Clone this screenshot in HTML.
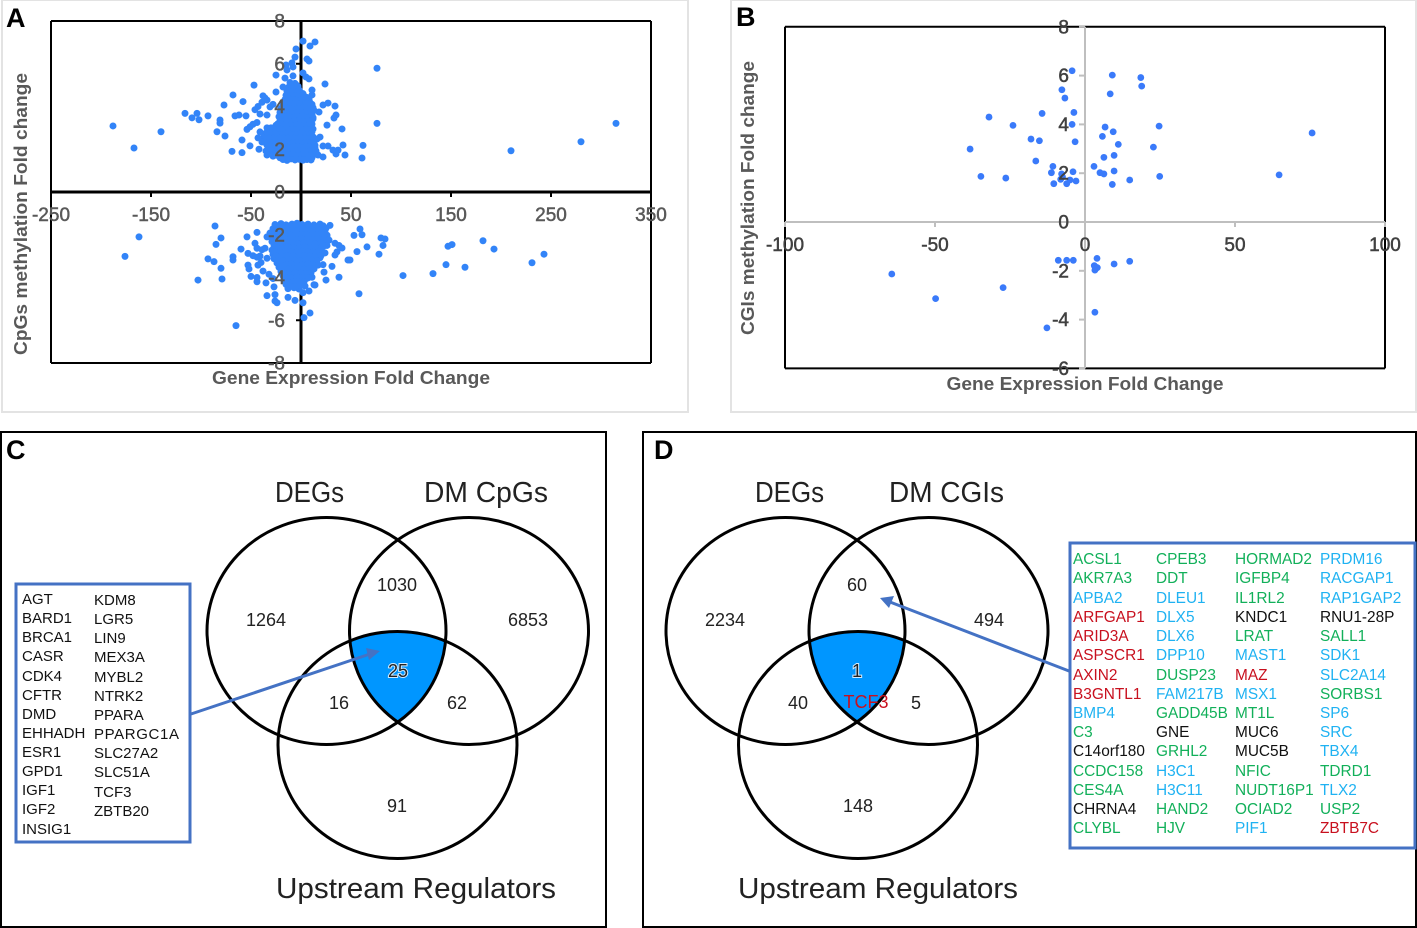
<!DOCTYPE html>
<html lang="en">
<head>
<meta charset="utf-8">
<title>Methylation and gene expression figure</title>
<style>
html,body{margin:0;padding:0;background:#fff;width:1417px;height:928px;overflow:hidden}
svg{display:block;font-family:"Liberation Sans",sans-serif}
.tick-a{font-size:19px;fill:#595959;stroke:#595959;stroke-width:.5}
.tick-b{font-size:19px;fill:#404040;stroke:#404040;stroke-width:.5}
.axis-title{font-size:18px;font-weight:bold;fill:#595959}
.panel-letter{font-size:27px;font-weight:bold;fill:#000}
.venn-title{font-size:29px;fill:#222}
.num{font-size:18px;fill:#222;text-anchor:middle}
.halo{paint-order:stroke;stroke:#cfeaff;stroke-width:2px}
.lc{font-size:15px;fill:#111}
.ld{font-size:15.4px}
.g{fill:#12b05a}.b{fill:#1fb2f2}.r{fill:#c8101e}.k{fill:#111}
.circle{fill:none;stroke:#000;stroke-width:3}
</style>
</head>
<body>
<svg xmlns="http://www.w3.org/2000/svg" width="1417" height="928" viewBox="0 0 1417 928">
<defs>
<clipPath id="cl"><ellipse cx="326.5" cy="631" rx="119.5" ry="113.5"/></clipPath>
<clipPath id="cr"><ellipse cx="469" cy="631" rx="119.5" ry="113.5"/></clipPath>
<clipPath id="dl"><ellipse cx="785.5" cy="631" rx="119.5" ry="113.5"/></clipPath>
<clipPath id="dr"><ellipse cx="928.5" cy="631" rx="119.5" ry="113.5"/></clipPath>
</defs>

<rect x="2" y="0" width="686" height="412" fill="#fff" stroke="#e3e3e3" stroke-width="2"/>
<rect x="731" y="0" width="685" height="412" fill="#fff" stroke="#e3e3e3" stroke-width="2"/>
<g id="chart-a"></g>
<g id="chart-b"></g>
<text x="6" y="27" class="panel-letter">A</text>
<text x="736" y="26" class="panel-letter">B</text>

<!-- Panel C -->
<rect x="1" y="432" width="605" height="495" fill="#fff" stroke="#000" stroke-width="2"/>
<text x="6" y="459" class="panel-letter">C</text>
<g clip-path="url(#cl)"><g clip-path="url(#cr)"><ellipse cx="397.5" cy="745" rx="119.5" ry="113.5" fill="#0096ff"/></g></g>
<ellipse class="circle" cx="326.5" cy="631" rx="119.5" ry="113.5"/>
<ellipse class="circle" cx="469" cy="631" rx="119.5" ry="113.5"/>
<ellipse class="circle" cx="397.5" cy="745" rx="119.5" ry="113.5"/>
<text x="275" y="502" class="venn-title" textLength="69" lengthAdjust="spacingAndGlyphs">DEGs</text>
<text x="424" y="502" class="venn-title" textLength="124" lengthAdjust="spacingAndGlyphs">DM CpGs</text>
<text x="276" y="898" class="venn-title" textLength="280" lengthAdjust="spacingAndGlyphs">Upstream Regulators</text>
<text x="266" y="626" class="num">1264</text>
<text x="397" y="591" class="num">1030</text>
<text x="528" y="626" class="num">6853</text>
<text x="398" y="677" class="num halo">25</text>
<text x="339" y="709" class="num">16</text>
<text x="457" y="709" class="num">62</text>
<text x="397" y="812" class="num">91</text>
<line x1="191" y1="714" x2="370" y2="654" stroke="#4472c4" stroke-width="3"/>
<polygon points="380,651 366,648 369,660" fill="#4472c4"/>
<rect x="16" y="584" width="174" height="258" fill="#fff" stroke="#4472c4" stroke-width="3"/>
<g class="lc">
<text class="lc" x="22" y="604">AGT</text>
<text class="lc" x="22" y="623">BARD1</text>
<text class="lc" x="22" y="642">BRCA1</text>
<text class="lc" x="22" y="661">CASR</text>
<text class="lc" x="22" y="681">CDK4</text>
<text class="lc" x="22" y="700">CFTR</text>
<text class="lc" x="22" y="719">DMD</text>
<text class="lc" x="22" y="738">EHHADH</text>
<text class="lc" x="22" y="757">ESR1</text>
<text class="lc" x="22" y="776">GPD1</text>
<text class="lc" x="22" y="795">IGF1</text>
<text class="lc" x="22" y="814">IGF2</text>
<text class="lc" x="22" y="834">INSIG1</text>
<text class="lc" x="94" y="605">KDM8</text>
<text class="lc" x="94" y="624">LGR5</text>
<text class="lc" x="94" y="643">LIN9</text>
<text class="lc" x="94" y="662">MEX3A</text>
<text class="lc" x="94" y="682">MYBL2</text>
<text class="lc" x="94" y="701">NTRK2</text>
<text class="lc" x="94" y="720">PPARA</text>
<text class="lc" x="94" y="739" textLength="85" lengthAdjust="spacing">PPARGC1A</text>
<text class="lc" x="94" y="758">SLC27A2</text>
<text class="lc" x="94" y="777">SLC51A</text>
<text class="lc" x="94" y="797">TCF3</text>
<text class="lc" x="94" y="816">ZBTB20</text>
</g>

<!-- Panel D -->
<rect x="643" y="432" width="773" height="495" fill="#fff" stroke="#000" stroke-width="2"/>
<text x="654" y="459" class="panel-letter">D</text>
<g clip-path="url(#dl)"><g clip-path="url(#dr)"><ellipse cx="858" cy="745" rx="119.5" ry="113.5" fill="#0096ff"/></g></g>
<ellipse class="circle" cx="785.5" cy="631" rx="119.5" ry="113.5"/>
<ellipse class="circle" cx="928.5" cy="631" rx="119.5" ry="113.5"/>
<ellipse class="circle" cx="858" cy="745" rx="119.5" ry="113.5"/>
<text x="755" y="502" class="venn-title" textLength="69" lengthAdjust="spacingAndGlyphs">DEGs</text>
<text x="889" y="502" class="venn-title" textLength="115" lengthAdjust="spacingAndGlyphs">DM CGIs</text>
<text x="738" y="898" class="venn-title" textLength="280" lengthAdjust="spacingAndGlyphs">Upstream Regulators</text>
<text x="725" y="626" class="num">2234</text>
<text x="857" y="591" class="num">60</text>
<text x="989" y="626" class="num">494</text>
<text x="857" y="677" class="num halo">1</text>
<text x="798" y="709" class="num">40</text>
<text x="916" y="709" class="num">5</text>
<text x="858" y="812" class="num">148</text>
<text x="866" y="708" class="num" style="fill:#c8101e">TCF3</text>
<line x1="1069" y1="671" x2="890" y2="602" stroke="#4472c4" stroke-width="3"/>
<polygon points="880,598 894,596 889,608" fill="#4472c4"/>
<rect x="1070" y="543" width="345" height="305" fill="#fff" stroke="#4472c4" stroke-width="3"/>
<g class="ld">
<text class="ld g" x="1073" y="564">ACSL1</text>
<text class="ld g" x="1073" y="583">AKR7A3</text>
<text class="ld b" x="1073" y="603">APBA2</text>
<text class="ld r" x="1073" y="622">ARFGAP1</text>
<text class="ld r" x="1073" y="641">ARID3A</text>
<text class="ld r" x="1073" y="660">ASPSCR1</text>
<text class="ld r" x="1073" y="680">AXIN2</text>
<text class="ld r" x="1073" y="699">B3GNTL1</text>
<text class="ld b" x="1073" y="718">BMP4</text>
<text class="ld g" x="1073" y="737">C3</text>
<text class="ld k" x="1073" y="756">C14orf180</text>
<text class="ld g" x="1073" y="776">CCDC158</text>
<text class="ld g" x="1073" y="795">CES4A</text>
<text class="ld k" x="1073" y="814">CHRNA4</text>
<text class="ld g" x="1073" y="833">CLYBL</text>
<text class="ld g" x="1156" y="564">CPEB3</text>
<text class="ld g" x="1156" y="583">DDT</text>
<text class="ld b" x="1156" y="603">DLEU1</text>
<text class="ld b" x="1156" y="622">DLX5</text>
<text class="ld b" x="1156" y="641">DLX6</text>
<text class="ld b" x="1156" y="660">DPP10</text>
<text class="ld g" x="1156" y="680">DUSP23</text>
<text class="ld b" x="1156" y="699">FAM217B</text>
<text class="ld g" x="1156" y="718">GADD45B</text>
<text class="ld k" x="1156" y="737">GNE</text>
<text class="ld g" x="1156" y="756">GRHL2</text>
<text class="ld b" x="1156" y="776">H3C1</text>
<text class="ld b" x="1156" y="795">H3C11</text>
<text class="ld g" x="1156" y="814">HAND2</text>
<text class="ld g" x="1156" y="833">HJV</text>
<text class="ld g" x="1235" y="564">HORMAD2</text>
<text class="ld g" x="1235" y="583">IGFBP4</text>
<text class="ld g" x="1235" y="603">IL1RL2</text>
<text class="ld k" x="1235" y="622">KNDC1</text>
<text class="ld g" x="1235" y="641">LRAT</text>
<text class="ld b" x="1235" y="660">MAST1</text>
<text class="ld r" x="1235" y="680">MAZ</text>
<text class="ld b" x="1235" y="699">MSX1</text>
<text class="ld g" x="1235" y="718">MT1L</text>
<text class="ld k" x="1235" y="737">MUC6</text>
<text class="ld k" x="1235" y="756">MUC5B</text>
<text class="ld g" x="1235" y="776">NFIC</text>
<text class="ld g" x="1235" y="795">NUDT16P1</text>
<text class="ld g" x="1235" y="814">OCIAD2</text>
<text class="ld b" x="1235" y="833">PIF1</text>
<text class="ld b" x="1320" y="564">PRDM16</text>
<text class="ld b" x="1320" y="583">RACGAP1</text>
<text class="ld b" x="1320" y="603">RAP1GAP2</text>
<text class="ld k" x="1320" y="622">RNU1-28P</text>
<text class="ld g" x="1320" y="641">SALL1</text>
<text class="ld b" x="1320" y="660">SDK1</text>
<text class="ld b" x="1320" y="680">SLC2A14</text>
<text class="ld g" x="1320" y="699">SORBS1</text>
<text class="ld b" x="1320" y="718">SP6</text>
<text class="ld b" x="1320" y="737">SRC</text>
<text class="ld b" x="1320" y="756">TBX4</text>
<text class="ld g" x="1320" y="776">TDRD1</text>
<text class="ld b" x="1320" y="795">TLX2</text>
<text class="ld g" x="1320" y="814">USP2</text>
<text class="ld r" x="1320" y="833">ZBTB7C</text>
</g>
</svg>

<script>
var xTicksA = [-250,-150,-50,50,150,250,350];
var yTicksA = [8,6,4,2,0,-2,-4,-6,-8];
var xTicksB = [-100,-50,0,50,100];
var yTicksB = [8,6,4,2,0,-2,-4,-6];

// Panel A: CpGs, hypermethylated outliers and fringe
var cpgUpperFringe = [
[-188,3.09],[-167,2.06],[-140,2.82],[-116,3.68],[-109,3.47],[-104,3.68],[-102,3.38],[-93,3.56],[-81,3.37],[-81,3.22],[-84,2.82],[-76,2.62],[-77,4.07],[-68,4.54],[-58,4.23],[-47,5.0],[-66,3.56],[-62,3.6],[-55,3.56],[-69,1.9],[-59,1.84],[-59,2.43],[-51,2.16],[-42,2.0],[-54,2.93],[-51,3.05],[-48,3.17],[-44,3.25],[-46,3.85],[-43,4.0],[-38,4.5],[-39,4.2],[-34,4.3],[-31,3.98],[-41,3.65],[-34,3.6],[-36,4.4],[-28,4.1],
[-34,1.73],[-35,1.92],[-28,1.68],[-19,1.59],[-41,2.81],[-43,2.53],[-39,2.34],[-34,3.0],
[2,7.06],[14,7.02],[9,6.83],[-5,6.69],[-6,6.31],[-9,6.04],[-15,5.94],[-14,5.71],[-8,5.85],[6,6.22],[8,6.13],[2,5.57],[5,5.38],[8,5.29],[-25,5.47],[-16,5.33],[-8,5.43],[-18,4.91],[-25,4.68],
[24,5.05],[11,4.77],[11,4.54],[27,4.16],[22,4.07],[18,3.74],[34,4.02],[35,3.6],[33,3.46],[26,3.13],[41,2.95],[12,2.95],[19,2.57],[16,2.48],[22,2.15],[27,2.15],[32,1.96],[37,1.96],[42,2.2],[35,1.78],[44,1.73],[22,1.64],[15,1.92],[17,1.73],
[76,5.79],[76,3.21],[62,2.18],[61,1.59],[210,1.93],[280,2.35],[315,3.21]
];
// Panel A: CpGs, hypermethylated dense cloud
var cpgUpperCloud = [
[-18,1.52],[-14,1.48],[-10,1.55],[-6,1.5],[-2,1.53],[2,1.49],[6,1.52],[10,1.5],
[-24,1.72],[-20,1.68],[-15,1.74],[-11,1.7],[-7,1.66],[-3,1.72],[1,1.7],[5,1.75],[9,1.68],[12,1.72],
[-30,1.92],[-26,1.88],[-22,1.94],[-17,1.9],[-12,1.86],[-8,1.92],[-4,1.9],[0,1.94],[4,1.88],[8,1.92],[13,1.9],
[-33,2.12],[-29,2.08],[-24,2.14],[-20,2.1],[-15,2.06],[-10,2.12],[-5,2.1],[-1,2.14],[3,2.08],[7,2.12],[11,2.1],[14,2.06],
[-36,2.32],[-31,2.28],[-27,2.34],[-22,2.3],[-18,2.26],[-13,2.32],[-9,2.3],[-4,2.34],[1,2.28],[5,2.32],[9,2.3],[13,2.26],
[-38,2.52],[-33,2.48],[-28,2.54],[-24,2.5],[-19,2.46],[-14,2.52],[-10,2.5],[-6,2.54],[-2,2.48],[3,2.52],[7,2.5],[11,2.46],
[-37,2.72],[-32,2.68],[-27,2.74],[-22,2.7],[-17,2.66],[-13,2.72],[-8,2.7],[-3,2.74],[2,2.68],[6,2.72],[10,2.7],
[-33,2.92],[-29,2.88],[-25,2.94],[-20,2.9],[-15,2.86],[-11,2.92],[-6,2.9],[-1,2.94],[4,2.88],[8,2.92],
[-25,3.12],[-20,3.08],[-16,3.14],[-11,3.1],[-7,3.06],[-2,3.12],[3,3.1],[7,3.14],[10,3.08],
[-21,3.32],[-17,3.28],[-12,3.34],[-8,3.3],[-3,3.26],[1,3.32],[6,3.3],[10,3.34],
[-22,3.52],[-18,3.48],[-13,3.54],[-9,3.5],[-4,3.46],[0,3.52],[5,3.5],[9,3.54],[12,3.48],
[-21,3.72],[-16,3.68],[-12,3.74],[-7,3.7],[-2,3.66],[3,3.72],[8,3.7],[11,3.74],
[-20,3.92],[-15,3.88],[-11,3.94],[-6,3.9],[-1,3.86],[4,3.92],[9,3.9],[12,3.94],
[-18,4.12],[-14,4.08],[-9,4.14],[-5,4.1],[2,4.06],[7,4.12],[11,4.1],
[-16,4.32],[-12,4.28],[-8,4.34],[-3,4.3],[3,4.26],[8,4.32],
[-15,4.52],[-11,4.48],[-6,4.54],[-2,4.5],[4,4.46],
[-14,4.72],[-9,4.68],[-5,4.74],[-1,4.7],
[-12,4.92],[-7,4.88],[-3,4.94],
[-11,5.12],[-6,5.08]
];
var cpgUpperCloudInfill = [
[-21,1.6],[-16,1.62],[-12,1.58],[-8,1.6],[-4,1.62],[0,1.58],[4,1.6],[8,1.62],[11,1.6],
[-27,1.8],[-22,1.82],[-18,1.78],[-13,1.8],[-9,1.82],[-5,1.78],[-1,1.8],[3,1.82],[7,1.78],[11,1.8],
[-31,2.0],[-27,2.02],[-22,1.98],[-17,2.0],[-13,2.02],[-7,1.98],[-3,2.0],[2,2.02],[6,1.98],[10,2.0],[13,2.02],
[-34,2.2],[-30,2.22],[-26,2.18],[-21,2.2],[-17,2.22],[-12,2.18],[-7,2.2],[-2,2.22],[2,2.18],[6,2.2],[10,2.22],[14,2.18],
[-36,2.4],[-31,2.42],[-26,2.38],[-21,2.4],[-16,2.42],[-11,2.38],[-7,2.4],[-3,2.42],[1,2.38],[5,2.4],[9,2.42],[12,2.38],
[-35,2.6],[-30,2.62],[-26,2.58],[-21,2.6],[-16,2.62],[-12,2.58],[-8,2.6],[-4,2.62],[0,2.58],[5,2.6],[9,2.62],[12,2.58],
[-34,2.8],[-30,2.82],[-25,2.78],[-19,2.8],[-15,2.82],[-10,2.78],[-5,2.8],[0,2.82],[4,2.78],[8,2.8],[11,2.82],
[-30,3.0],[-26,3.02],[-22,2.98],[-18,3.0],[-13,3.02],[-8,2.98],[-4,3.0],[1,3.02],[6,2.98],[10,3.0],
[-23,3.2],[-18,3.22],[-14,3.18],[-9,3.2],[-5,3.22],[0,3.18],[5,3.2],[9,3.22],[11,3.18],
[-20,3.4],[-15,3.42],[-10,3.38],[-6,3.4],[-1,3.42],[3,3.38],[8,3.4],[12,3.42],
[-20,3.6],[-15,3.62],[-11,3.58],[-6,3.6],[-2,3.62],[2,3.58],[7,3.6],[11,3.62],
[-19,3.8],[-14,3.82],[-9,3.78],[-4,3.8],[1,3.82],[6,3.78],[10,3.8],[13,3.82],
[-17,4.0],[-13,4.02],[-8,3.98],[-3,4.0],[2,4.02],[7,3.98],[11,4.0],
[-16,4.2],[-11,4.22],[-7,4.18],[-2,4.2],[5,4.22],[9,4.18],
[-14,4.4],[-10,4.42],[-5,4.38],[1,4.4],[6,4.42],
[-13,4.6],[-8,4.62],[-3,4.58],[2,4.6],
[-10,4.8],[-6,4.82],[-2,4.78],
[-10,5.0],[-5,5.02]
];
// Panel A: CpGs, hypomethylated outliers and fringe
var cpgLowerFringe = [
[-176,-3.01],[-162,-2.1],[-86,-1.59],[-80,-2.15],[-85,-2.45],[-54,-2.1],[-44,-1.89],[-60,-2.67],[-93,-3.13],[-87,-3.26],[-68,-3.03],[-68,-3.18],[-80,-3.57],[-103,-4.12],[-79,-4.07],[-65,-6.25],
[-34,-4.85],[-26,-4.8],[-26,-5.1],[-24,-5.18],[-13,-4.93],[-6,-5.07],[2,-5.18],[2,-4.71],[8,-4.63],[9,-5.66],[3,-5.88],
[29,-1.56],[47,-3.18],[38,-3.99],[25,-4.12],[31,-3.48],[13,-4.34],[11,-3.99],
[-53,-2.87],[-48,-2.98],[-44,-3.05],[-53,-3.42],[-52,-3.6],[-50,-3.95],[-44,-4.0],[-44,-4.2],[-35,-4.25],[-27,-4.44],[-43,-3.42],[-40,-3.3],[-34,-3.1],[-46,-2.4],[-44,-2.63],[-36,-2.63],[-34,-2.1],[-39,-2.7],[-41,-3.0],[-38,-3.7],[-32,-3.85],[-28,-4.05],
[59,-1.73],[53,-2.03],[61,-2.0],[80,-2.15],[84,-2.2],[82,-2.5],[66,-2.57],[56,-2.79],[78,-2.91],[49,-3.18],[102,-3.91],[132,-3.82],[145,-3.4],[147,-2.54],[151,-2.46],[164,-3.52],[182,-2.28],[193,-2.67],[231,-3.31],[243,-2.91],[58,-4.76],
[41,-2.62],[36,-2.8],[34,-2.95],[34,-2.4],[38,-2.5],[28,-2.25],[24,-2.85],[26,-2.5],[22,-3.4],[23,-3.75],[14,-4.35]
];
// Panel A: CpGs, hypomethylated dense cloud
var cpgLowerCloud = [
[-26,-1.52],[-20,-1.48],[-15,-1.54],[-9,-1.5],[-4,-1.46],[1,-1.52],[7,-1.5],[13,-1.54],[19,-1.5],
[-28,-1.72],[-23,-1.68],[-17,-1.74],[-12,-1.7],[-6,-1.66],[-1,-1.72],[4,-1.7],[10,-1.74],[16,-1.68],[21,-1.72],[25,-1.7],
[-31,-1.92],[-26,-1.88],[-20,-1.94],[-15,-1.9],[-9,-1.86],[-3,-1.92],[2,-1.9],[8,-1.94],[13,-1.88],[19,-1.92],[24,-1.9],
[-30,-2.12],[-24,-2.08],[-19,-2.14],[-13,-2.1],[-7,-2.06],[-2,-2.12],[4,-2.1],[10,-2.14],[15,-2.08],[21,-2.12],[26,-2.1],
[-29,-2.32],[-23,-2.28],[-17,-2.34],[-12,-2.3],[-6,-2.26],[0,-2.32],[5,-2.3],[11,-2.34],[17,-2.28],[22,-2.32],
[-27,-2.52],[-21,-2.48],[-16,-2.54],[-10,-2.5],[-4,-2.46],[1,-2.52],[7,-2.5],[12,-2.54],[18,-2.48],[23,-2.52],
[-29,-2.72],[-24,-2.68],[-18,-2.74],[-13,-2.7],[-7,-2.66],[-2,-2.72],[4,-2.7],[9,-2.74],[15,-2.68],[20,-2.72],
[-28,-2.92],[-22,-2.88],[-17,-2.94],[-11,-2.9],[-5,-2.86],[0,-2.92],[6,-2.9],[11,-2.94],[17,-2.88],
[-27,-3.12],[-21,-3.08],[-15,-3.14],[-9,-3.1],[-4,-3.06],[2,-3.12],[8,-3.1],[13,-3.14],[19,-3.08],
[-24,-3.32],[-18,-3.28],[-13,-3.34],[-7,-3.3],[-2,-3.26],[4,-3.32],[9,-3.3],[15,-3.34],
[-22,-3.52],[-16,-3.48],[-11,-3.54],[-5,-3.5],[0,-3.46],[6,-3.52],[12,-3.5],
[-20,-3.72],[-15,-3.68],[-9,-3.74],[-3,-3.7],[2,-3.66],[8,-3.72],
[-18,-3.92],[-13,-3.88],[-7,-3.94],[-2,-3.9],[4,-3.86],
[-17,-4.12],[-11,-4.08],[-6,-4.14],[0,-4.1],[5,-4.06],
[-15,-4.32],[-10,-4.28],[-4,-4.34],[1,-4.3],
[-13,-4.52],[-7,-4.48],[-2,-4.54]
];
var cpgLowerCloudInfill = [
[-24,-1.6],[-18,-1.62],[-12,-1.58],[-6,-1.6],[-2,-1.62],[4,-1.58],[10,-1.6],[16,-1.62],[22,-1.58],
[-26,-1.8],[-20,-1.82],[-14,-1.78],[-9,-1.8],[-4,-1.82],[2,-1.78],[7,-1.8],[13,-1.82],[18,-1.78],[23,-1.8],
[-28,-2.0],[-23,-2.02],[-17,-1.98],[-12,-2.0],[-6,-2.02],[0,-1.98],[5,-2.0],[11,-2.02],[16,-1.98],[22,-2.0],[26,-2.02],
[-27,-2.2],[-22,-2.22],[-16,-2.18],[-10,-2.2],[-4,-2.22],[1,-2.18],[7,-2.2],[12,-2.22],[18,-2.18],[24,-2.2],
[-26,-2.4],[-20,-2.42],[-14,-2.38],[-9,-2.4],[-3,-2.42],[3,-2.38],[8,-2.4],[14,-2.42],[20,-2.38],
[-24,-2.6],[-18,-2.62],[-13,-2.58],[-7,-2.6],[-1,-2.62],[4,-2.58],[10,-2.6],[15,-2.62],[21,-2.58],
[-26,-2.8],[-21,-2.82],[-15,-2.78],[-10,-2.8],[-4,-2.82],[1,-2.78],[7,-2.8],[12,-2.82],[18,-2.78],
[-25,-3.0],[-19,-3.02],[-14,-2.98],[-8,-3.0],[-2,-3.02],[3,-2.98],[9,-3.0],[14,-3.02],[20,-2.98],
[-24,-3.2],[-18,-3.22],[-12,-3.18],[-6,-3.2],[-1,-3.22],[5,-3.18],[11,-3.2],[16,-3.22],
[-21,-3.4],[-15,-3.42],[-10,-3.38],[-4,-3.4],[1,-3.42],[7,-3.38],[12,-3.4],[17,-3.42],
[-19,-3.6],[-13,-3.62],[-8,-3.58],[-2,-3.6],[3,-3.62],[9,-3.58],[13,-3.6],
[-17,-3.8],[-12,-3.82],[-6,-3.78],[0,-3.8],[5,-3.82],[10,-3.78],
[-15,-4.0],[-10,-4.02],[-4,-3.98],[2,-4.0],[7,-4.02],
[-14,-4.2],[-8,-4.22],[-3,-4.18],[3,-4.2],
[-11,-4.4],[-6,-4.42],[0,-4.38],[4,-4.4]
];
// Panel B: CGIs
var cgiPoints = [
[-4.3,6.2],[-7.7,5.42],[-6.7,5.08],[9.1,6.02],[18.6,5.92],[18.9,5.57],[8.4,5.25],[-14.3,4.45],[-32,4.3],[-3.7,4.49],[-24,3.96],[-4.3,4.0],[6.7,3.89],[9.4,3.7],[24.7,3.93],[-18,3.4],[-15.2,3.33],[-3.3,3.29],[5.8,3.51],[11.1,3.18],[-38.3,2.99],[22.8,3.07],[6.3,2.65],[9.7,2.73],[-16.4,2.5],[3,2.28],[-10.7,2.28],[-11.2,2.02],[-4,2.06],[-7.8,1.97],[5,2.02],[6.3,1.97],[9.7,2.09],[-34.7,1.87],[-26.4,1.8],[24.9,1.87],[14.9,1.72],[9.1,1.54],[-8.1,1.75],[-5,1.72],[-3,1.68],[-10.4,1.57],[-6.1,1.57],[-7.5,1.85],[64.7,1.93],[75.7,3.65],
[-64.4,-2.13],[-49.8,-3.14],[-27.3,-2.69],[-12.7,-4.34],[3.3,-3.7],[-8.9,-1.57],[-6.1,-1.57],[-3.9,-1.57],[4,-1.49],[3.1,-1.79],[4.1,-1.87],[3.3,-1.97],[9.7,-1.72],[14.9,-1.61],[3.4,-1.83],[3.7,-1.9]
];

var NS = 'http://www.w3.org/2000/svg';
function xA(v){ return 301 + v * 1; }
function yA(v){ return 192 - v * 21.375; }
function xB(v){ return 1085 + v * 3; }
function yB(v){ return 222 - v * 24.4; }

function make(parent, tag, attrs){
  var el = document.createElementNS(NS, tag);
  for (var k in attrs) el.setAttribute(k, attrs[k]);
  parent.appendChild(el);
  return el;
}
function axisLine(parent, x1, y1, x2, y2, color, w, name){
  var el = make(parent, 'line', {x1:x1, y1:y1, x2:x2, y2:y2, stroke:color, 'stroke-width':w});
  
  
}
function label(parent, x, y, txt, cls, anchor, name){
  var el = make(parent, 'text', {x:x, y:y, 'class':cls, 'text-anchor':anchor});
  el.textContent = txt;
  
  
  return el;
}
function dots(parent, pts, fx, fy, r, color, name){
  pts.forEach(function(p){
    var c = make(parent, 'circle', {cx:fx(p[0]), cy:fy(p[1]), r:r, fill:color});
    
    
  });
}

// Panel A
var a = document.getElementById('chart-a');
axisLine(a, xA(-250), yA(8), xA(350), yA(8), '#000', 2, 'a-frame-top');
axisLine(a, xA(-250), yA(-8), xA(350), yA(-8), '#000', 2, 'a-frame-bottom');
axisLine(a, xA(-250), yA(8), xA(-250), yA(-8), '#000', 2, 'a-frame-left');
axisLine(a, xA(350), yA(8), xA(350), yA(-8), '#000', 2, 'a-frame-right');
axisLine(a, xA(-250), yA(0), xA(350), yA(0), '#000', 3, 'a-x-axis');
axisLine(a, xA(0), yA(8), xA(0), yA(-8), '#000', 3, 'a-y-axis');
xTicksA.forEach(function(t){ axisLine(a, xA(t), yA(0), xA(t), yA(0)+5, '#000', 2, 'a-x-tick'); });
yTicksA.forEach(function(t){ axisLine(a, xA(0)-5, yA(t), xA(0), yA(t), '#000', 2, 'a-y-tick'); });
dots(a, cpgUpperCloud, xA, yA, 3.5, '#3284f8', 'cpg-point-up');
dots(a, cpgUpperCloudInfill, xA, yA, 3.5, '#3284f8', 'cpg-point-up');
dots(a, cpgUpperFringe, xA, yA, 3.5, '#3284f8', 'cpg-point-up');
dots(a, cpgLowerCloud, xA, yA, 3.5, '#3284f8', 'cpg-point-down');
dots(a, cpgLowerCloudInfill, xA, yA, 3.5, '#3284f8', 'cpg-point-down');
dots(a, cpgLowerFringe, xA, yA, 3.5, '#3284f8', 'cpg-point-down');
xTicksA.forEach(function(t){ label(a, xA(t), 221, String(t), 'tick-a', 'middle', 'a-x-tick-label'); });
yTicksA.forEach(function(t){ label(a, 285, yA(t)+6.5, String(t), 'tick-a', 'end', 'a-y-tick-label'); });
var ta = label(a, 351, 384, 'Gene Expression Fold Change', 'axis-title', 'middle', 'a-x-axis-title');
ta.setAttribute('textLength', '278');
ta.setAttribute('lengthAdjust', 'spacingAndGlyphs');
var tb = label(a, 0, 0, 'CpGs methylation Fold change', 'axis-title', 'middle', 'a-y-axis-title');
tb.setAttribute('transform', 'translate(27,214) rotate(-90)');
tb.setAttribute('textLength', '282');
tb.setAttribute('lengthAdjust', 'spacingAndGlyphs');

// Panel B
var b = document.getElementById('chart-b');
axisLine(b, xB(-100), yB(8), xB(100), yB(8), '#000', 2, 'b-frame-top');
axisLine(b, xB(-100), yB(-6), xB(100), yB(-6), '#000', 2, 'b-frame-bottom');
axisLine(b, xB(-100), yB(8), xB(-100), yB(-6), '#000', 2, 'b-frame-left');
axisLine(b, xB(100), yB(8), xB(100), yB(-6), '#000', 2, 'b-frame-right');
axisLine(b, xB(-100), yB(0), xB(100), yB(0), '#bfbfbf', 2, 'b-x-axis');
axisLine(b, xB(0), yB(8), xB(0), yB(-6), '#bfbfbf', 2, 'b-y-axis');
xTicksB.forEach(function(t){ axisLine(b, xB(t), yB(0), xB(t), yB(0)+5, '#bfbfbf', 2, 'b-x-tick'); });
yTicksB.forEach(function(t){ axisLine(b, xB(0)-6, yB(t), xB(0), yB(t), '#bfbfbf', 2, 'b-y-tick'); });
dots(b, cgiPoints, xB, yB, 3.4, '#3a7afa', 'cgi-point');
xTicksB.forEach(function(t){ label(b, xB(t), 251, String(t), 'tick-b', 'middle', 'b-x-tick-label'); });
yTicksB.forEach(function(t){ label(b, 1069, yB(t)+6.5, String(t), 'tick-b', 'end', 'b-y-tick-label'); });
var tc = label(b, 1085, 390, 'Gene Expression Fold Change', 'axis-title', 'middle', 'b-x-axis-title');
tc.setAttribute('textLength', '277');
tc.setAttribute('lengthAdjust', 'spacingAndGlyphs');
var td = label(b, 0, 0, 'CGIs methylation Fold change', 'axis-title', 'middle', 'b-y-axis-title');
td.setAttribute('transform', 'translate(754,198) rotate(-90)');
td.setAttribute('textLength', '274');
td.setAttribute('lengthAdjust', 'spacingAndGlyphs');
</script>
</body>
</html>
